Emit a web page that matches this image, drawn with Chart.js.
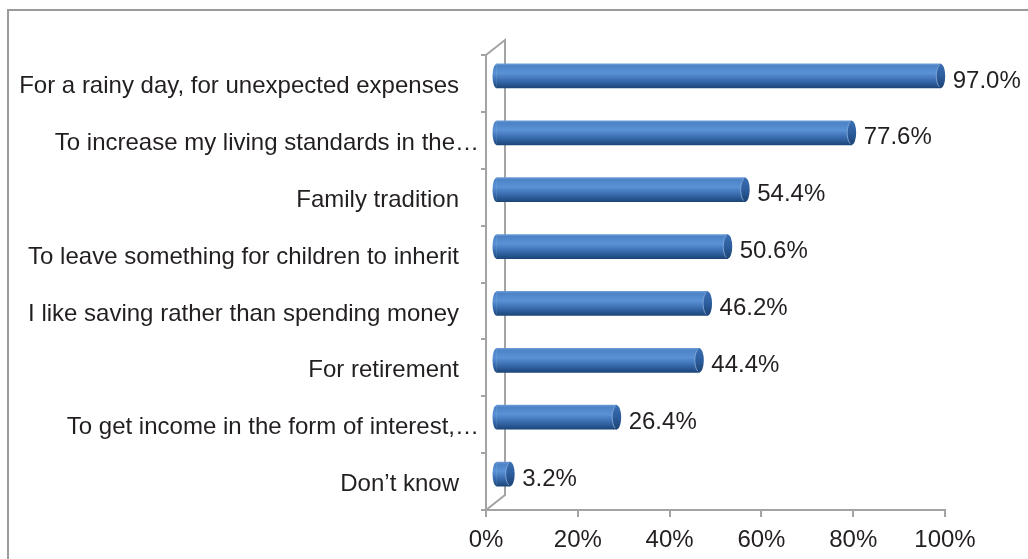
<!DOCTYPE html>
<html><head><meta charset="utf-8">
<script src="https://cdn.jsdelivr.net/npm/chart.js@4/dist/chart.umd.min.js"></script>
<style>html,body{margin:0;padding:0;background:#fff}canvas{display:block}</style>
</head>
<body>
<canvas id="c" width="1028" height="559"></canvas>
<script>
const categories = [
  "For a rainy day, for unexpected expenses",
  "To increase my living standards in the\u2026",
  "Family tradition",
  "To leave something for children to inherit",
  "I like saving rather than spending money",
  "For retirement",
  "To get income in the form of interest,\u2026",
  "Don\u2019t know"
];
const values = [97.0, 77.6, 54.4, 50.6, 46.2, 44.4, 26.4, 3.2];
const xTicks = [0, 20, 40, 60, 80, 100];

const FONT = "'Liberation Sans', Arial, sans-serif";
const TEXT = '#231f20';
const AXIS = '#a3a3a3';
const BX = 9.5, BY = -7.5;   // bar depth offset
const WX = 19, WY = -15;     // back wall offset
const BAR_T = 24;

function barGradient(ctx, cy) {
  const g = ctx.createLinearGradient(0, cy - BAR_T / 2, 0, cy + BAR_T / 2);
  g.addColorStop(0, '#6b9bd6');
  g.addColorStop(0.08, '#4c82c6');
  g.addColorStop(0.38, '#5b92d6');
  g.addColorStop(0.72, '#3669ab');
  g.addColorStop(1, '#1c4679');
  return g;
}

const frame = {
  id: 'frame',
  beforeDraw(chart) {
    const c = chart.ctx;
    c.save();
    c.strokeStyle = '#9a9a9a';
    c.lineWidth = 2;
    c.strokeRect(8, 10, 1100, 700);
    c.restore();
  },
  beforeDatasetsDraw(chart) {
    const c = chart.ctx, a = chart.chartArea;
    c.save();
    c.strokeStyle = AXIS;
    c.lineWidth = 2;
    c.beginPath();
    c.moveTo(a.left, a.top); c.lineTo(a.left + WX, a.top + WY);
    c.lineTo(a.left + WX, a.bottom + WY); c.lineTo(a.left, a.bottom);
    c.stroke();
    c.restore();
    c.save();
    c.translate(BX, BY);
  },
  afterDatasetsDraw(chart) {
    const c = chart.ctx;
    const meta = chart.getDatasetMeta(0);
    meta.data.forEach((el, i) => {
      const cy = el.y, xe = el.x, xb = el.base;
      c.save();
      c.fillStyle = barGradient(c, cy);
      c.beginPath();
      c.ellipse(xb, cy, 4, BAR_T / 2, 0, Math.PI / 2, Math.PI * 1.5);
      c.fill();
      const g = c.createLinearGradient(0, cy - BAR_T / 2, 0, cy + BAR_T / 2);
      g.addColorStop(0, '#3a6fb2');
      g.addColorStop(0.5, '#2d5d9d');
      g.addColorStop(1, '#1b4374');
      c.fillStyle = g;
      c.beginPath();
      c.ellipse(xe, cy, 4.5, BAR_T / 2, 0, 0, Math.PI * 2);
      c.fill();
      c.strokeStyle = 'rgba(140,175,220,0.8)';
      c.lineWidth = 1;
      c.beginPath();
      c.ellipse(xe, cy, 4.5, BAR_T / 2 - 0.5, 0, Math.PI * 0.6, Math.PI * 1.4);
      c.stroke();
      c.fillStyle = TEXT;
      c.font = '24px ' + FONT;
      c.textAlign = 'left';
      c.textBaseline = 'middle';
      c.fillText(values[i].toFixed(1) + '%', xe + 12, cy + 5);
      c.restore();
    });
    c.restore();
  }
};

new Chart(document.getElementById('c'), {
  type: 'bar',
  data: {
    labels: categories,
    datasets: [{
      data: values,
      barThickness: BAR_T,
      borderWidth: 0,
      backgroundColor: (ctx) => {
        const ys = ctx.chart.scales.y;
        const cy = ys ? ys.getPixelForValue(ctx.dataIndex) : NaN;
        if (!Number.isFinite(cy)) return '#3f74b8';
        return barGradient(ctx.chart.ctx, cy);
      }
    }]
  },
  options: {
    indexAxis: 'y',
    responsive: false,
    animation: false,
    events: [],
    layout: { padding: { left: 0, right: 83, top: 55, bottom: 0 } },
    plugins: { legend: { display: false }, tooltip: { enabled: false } },
    scales: {
      x: {
        min: 0, max: 100,
        afterBuildTicks: (s) => { s.ticks = xTicks.map(v => ({ value: v })); },
        afterFit: (s) => { s.height = 49; },
        grid: { drawOnChartArea: false, drawTicks: true, tickLength: 7, color: AXIS, lineWidth: 2 },
        border: { display: true, color: AXIS, width: 2 },
        ticks: { color: TEXT, font: { family: FONT, size: 24 }, padding: 9, callback: (v) => v + '%' }
      },
      y: {
        afterFit: (s) => { s.width = 486; },
        grid: { drawOnChartArea: false, drawTicks: true, tickLength: 5, color: AXIS, lineWidth: 2 },
        border: { display: true, color: AXIS, width: 2 },
        ticks: {
          color: TEXT, font: { family: FONT, size: 24 }, padding: 2, autoSkip: false, labelOffset: 3,
          callback: function (v) {
            const l = this.getLabelForValue(v);
            return l.endsWith('\u2026') ? l : l + '   ';
          }
        }
      }
    }
  },
  plugins: [frame]
});
</script>
</body></html>
